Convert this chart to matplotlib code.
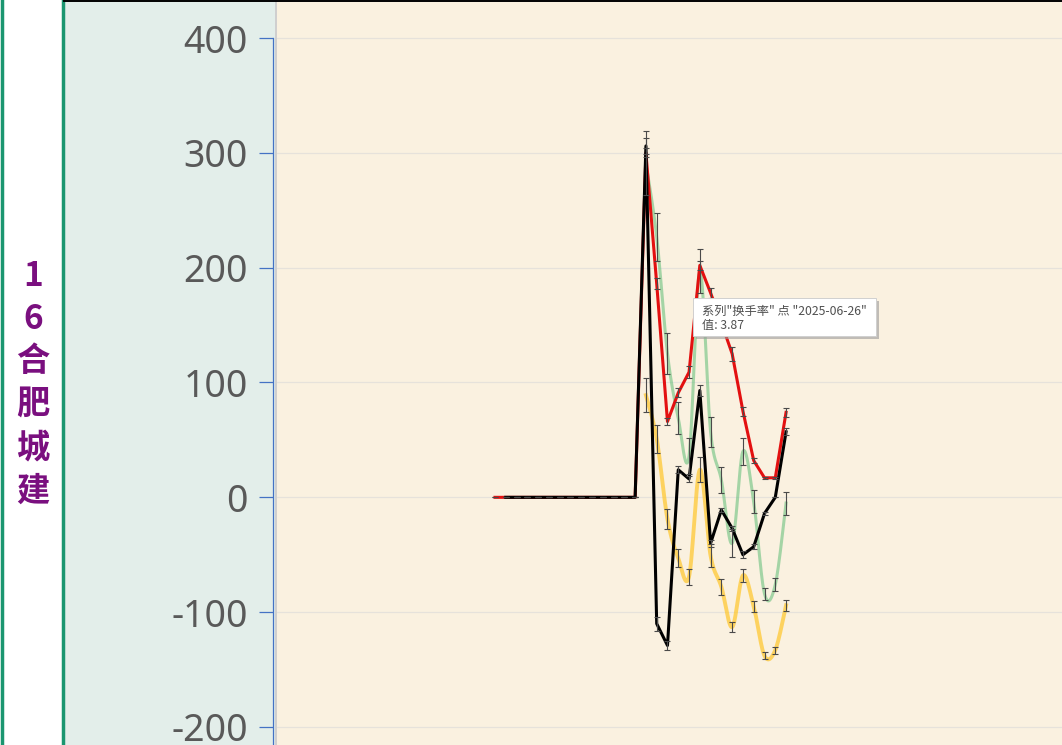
import numpy as np
import matplotlib.pyplot as plt
from matplotlib.patches import Rectangle
from matplotlib.lines import Line2D
plt.switch_backend('agg')

plt.rcParams['font.family'] = ['Noto Sans', 'Noto Sans CJK SC', 'DejaVu Sans']
plt.rcParams['axes.unicode_minus'] = False

# chart data (index 0..27 are trading days, last point 2025-06-26)
days = np.arange(28)
nan = np.nan
red = [0] * 14 + [300, 186, 66, 91, 109, 202, 178, 152, 125, 75, 32, 17, 17, 74]
red_err = [0] * 14 + [4, 5, 3, 4, 5, 4, 4, 5, 6, 4, 2, 1, 1, 4]
black = [nan] + [0] * 13 + [306, -110, -129, 24, 16, 93, -40, -11, -27, -50, -43, -14, 0, 57]
black_err = [0] * 14 + [7, 6, 4, 3, 3, 5, 3, 2, 2, 3, 2, 1, 0, 3]
green = [nan] * 14 + [291, 227, 125, 69, 36, 197, 57, 15, -40, 40, -4, -84, -76, -5]
green_err = [0] * 14 + [28, 21, 18, 14, 16, 19, 13, 11, 12, 12, 10, 5, 6, 10]
yellow = [nan] * 14 + [89, 51, -19, -53, -69, 24, -51, -78, -113, -68, -95, -138, -133, -94]
yellow_err = [0] * 14 + [15, 12, 9, 8, 7, 11, 10, 7, 4, 6, 5, 3, 3, 5]

yticks = [-200, -100, 0, 100, 200, 300, 400]
title_chars = ['1', '6', '合', '肥', '城', '建']
tip_lines = ['系列"换手率" 点 "2025-06-26"', '值: 3.87']

W, H = 1062, 745


def fx(px):
    return px / W


def fy(py):
    return 1 - py / H


def smooth(xs, ys, n=24):
    # catmull-rom curve through the points, only for drawing
    pts = np.column_stack([xs, ys])
    p = np.vstack([pts[0], pts, pts[-1]])
    t = np.linspace(0, 1, n, endpoint=False)[:, None]
    out = []
    for k in range(len(pts) - 1):
        p0, p1, p2, p3 = p[k], p[k + 1], p[k + 2], p[k + 3]
        out.append(0.5 * (2 * p1 + (-p0 + p2) * t
                          + (2 * p0 - 5 * p1 + 4 * p2 - p3) * t ** 2
                          + (-p0 + 3 * p1 - 3 * p2 + p3) * t ** 3))
    out.append(pts[-1:])
    return np.vstack(out)


fig = plt.figure(figsize=(W / 100, H / 100), dpi=100)
fig.patch.set_facecolor('white')

# side panels
fig.add_artist(Rectangle((fx(64), 0), fx(276) - fx(64), 1, transform=fig.transFigure,
                         facecolor='#e3eeea', edgecolor='none', zorder=0))
for px in (1.5, 62.8):
    fig.add_artist(Line2D([fx(px), fx(px)], [0, 1], transform=fig.transFigure,
                          color='#1b9670', lw=2.5, zorder=1))
for i, ch in enumerate(title_chars):
    fig.text(fx(33), fy(276 + 43 * i), ch, ha='center', va='center', fontsize=24,
             color='#7a0f7f', fontweight='bold', family=['Noto Sans CJK SC', 'DejaVu Sans'])

ax = fig.add_axes([fx(276), 0, 1 - fx(276), 1])
ax.set_facecolor('#faf1e0')
ax.set_xlim((276 - 495) / 10.78, (1062 - 495) / 10.78)
ax.set_ylim(400 - 707 / 1.14833, 400 + 38 / 1.14833)

ax.set_yticks(yticks)
ax.set_xticks([])
ax.grid(axis='y', color='#e6e2db', lw=0.9)
ax.set_axisbelow(True)
for s in ('top', 'right', 'bottom'):
    ax.spines[s].set_visible(False)
ax.spines['left'].set_position(('outward', 2.2))
ax.spines['left'].set_bounds(ax.get_ylim()[0], 400)
ax.spines['left'].set_color('#4472c4')
ax.spines['left'].set_linewidth(0.9)
ax.tick_params(axis='y', direction='out', length=10, width=0.9, color='#4472c4',
               labelsize=27, labelcolor='#595959', pad=8)

# smooth series
gx = days[14:]
sg = smooth(gx, np.array(green[14:], dtype=float))
ax.plot(sg[:, 0], sg[:, 1], color='#6cc17f', alpha=0.6, lw=2.2, zorder=2)
sy = smooth(gx, np.array(yellow[14:], dtype=float))
ax.plot(sy[:, 0], sy[:, 1], color='#ffc629', alpha=0.7, lw=2.8, zorder=2)

ax.plot(days, red, color='#e31010', lw=2.2, zorder=3)
ax.plot(days, black, color='#000000', lw=2.2, zorder=4)

eb = dict(fmt='none', ecolor='#4a4a4a', elinewidth=0.8, capsize=2.4, capthick=0.8, zorder=5)
ax.errorbar(days, red, yerr=red_err, **eb)
ax.errorbar(days, black, yerr=black_err, **eb)
ax.errorbar(gx, green[14:], yerr=green_err[14:], **eb)
ax.errorbar(gx, yellow[14:], yerr=yellow_err[14:], **eb)

# frame lines
fig.add_artist(Line2D([fx(275.5), fx(275.5)], [0, 1], transform=fig.transFigure,
                      color='#cfcfcf', lw=1.4, zorder=6))
fig.add_artist(Line2D([fx(64), 1], [fy(0.8), fy(0.8)], transform=fig.transFigure,
                      color='black', lw=1.4, zorder=6))

# tooltip
fig.add_artist(Rectangle((fx(696), fy(339)), fx(876) - fx(693), fy(298) - fy(336),
                         transform=fig.transFigure, facecolor='#9a9a9a', edgecolor='none',
                         alpha=0.6, zorder=7))
fig.add_artist(Rectangle((fx(693), fy(336)), fx(876) - fx(693), fy(298) - fy(336),
                         transform=fig.transFigure, facecolor='white', edgecolor='#d0d0d0',
                         lw=0.7, zorder=8))
for i, line in enumerate(tip_lines):
    fig.text(fx(702), fy(311 + 15 * i), line, ha='left', va='center', fontsize=8.8,
             color='#505050', zorder=9, family=['Noto Sans CJK SC', 'DejaVu Sans'])

fig.savefig('out.png', dpi=100)
plt.close('all')
